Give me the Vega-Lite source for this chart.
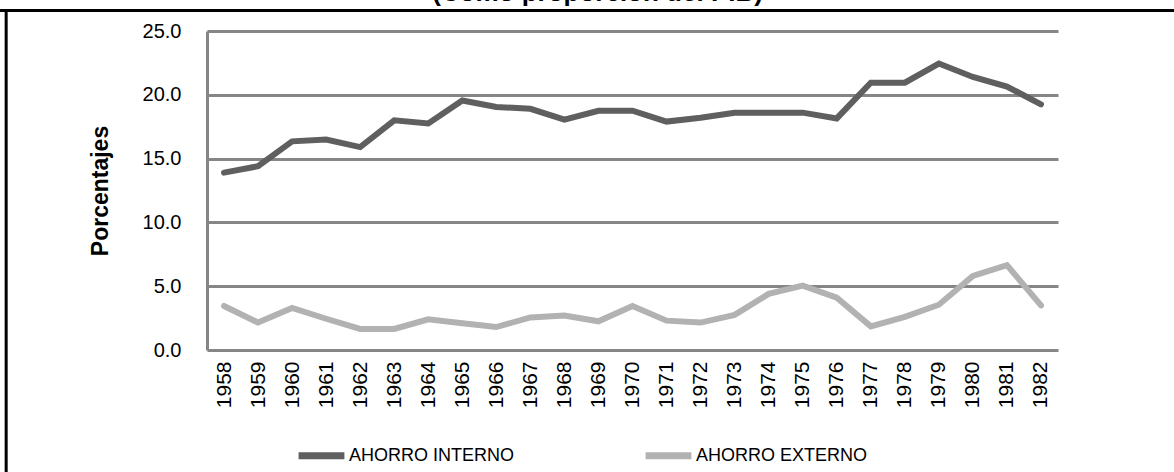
{
  "$schema": "https://vega.github.io/schema/vega-lite/v6.json",
  "autosize": "none",
  "width": 851,
  "height": 319,
  "padding": {"left": 207, "top": 31, "right": 116, "bottom": 122},
  "background": "white",
  "title": {
    "text": "(Como proporción del PIB)",
    "anchor": "middle",
    "frame": "group",
    "baseline": "alphabetic",
    "offset": 1,
    "dy": 19,
    "dx": -35,
    "fontSize": 26,
    "fontWeight": "bold",
    "font": "Liberation Sans",
    "color": "black"
  },
  "config": {
    "view": {"stroke": null},
    "font": "Liberation Sans"
  },
  "layer": [
    {
      "data": {
        "values": [
          {"anio": "1958", "interno": 13.9, "externo": 3.45},
          {"anio": "1959", "interno": 14.4, "externo": 2.15},
          {"anio": "1960", "interno": 16.35, "externo": 3.3},
          {"anio": "1961", "interno": 16.5, "externo": 2.45},
          {"anio": "1962", "interno": 15.9, "externo": 1.65},
          {"anio": "1963", "interno": 18.0, "externo": 1.65},
          {"anio": "1964", "interno": 17.75, "externo": 2.4},
          {"anio": "1965", "interno": 19.55, "externo": 2.1},
          {"anio": "1966", "interno": 19.05, "externo": 1.8},
          {"anio": "1967", "interno": 18.9, "externo": 2.55},
          {"anio": "1968", "interno": 18.05, "externo": 2.7},
          {"anio": "1969", "interno": 18.75, "externo": 2.25},
          {"anio": "1970", "interno": 18.75, "externo": 3.45},
          {"anio": "1971", "interno": 17.9, "externo": 2.3},
          {"anio": "1972", "interno": 18.2, "externo": 2.15},
          {"anio": "1973", "interno": 18.6, "externo": 2.75},
          {"anio": "1974", "interno": 18.6, "externo": 4.4},
          {"anio": "1975", "interno": 18.6, "externo": 5.05},
          {"anio": "1976", "interno": 18.15, "externo": 4.1},
          {"anio": "1977", "interno": 20.95, "externo": 1.85},
          {"anio": "1978", "interno": 20.95, "externo": 2.6},
          {"anio": "1979", "interno": 22.45, "externo": 3.55},
          {"anio": "1980", "interno": 21.4, "externo": 5.8},
          {"anio": "1981", "interno": 20.65, "externo": 6.65},
          {"anio": "1982", "interno": 19.25, "externo": 3.5}
        ]
      },
      "transform": [
        {"fold": ["interno", "externo"], "as": ["clave", "valor"]},
        {"lookup": "clave", "from": {"data": {"values": [
          {"clave": "interno", "serie": "AHORRO INTERNO"},
          {"clave": "externo", "serie": "AHORRO EXTERNO"}
        ]}, "key": "clave", "fields": ["serie"]}}
      ],
      "mark": {"type": "line", "strokeWidth": 6, "strokeJoin": "miter", "strokeCap": "round"},
      "encoding": {
        "x": {
          "field": "anio",
          "type": "ordinal",
          "scale": {"padding": 0.5},
          "axis": {
            "title": null,
            "domain": false,
            "ticks": false,
            "grid": false,
            "labelAngle": 270,
            "labelAlign": "right",
            "labelBaseline": "middle",
            "labelFontSize": 21,
            "labelColor": "black",
            "labelPadding": 11
          }
        },
        "y": {
          "field": "valor",
          "type": "quantitative",
          "scale": {"domain": [0, 25], "nice": false},
          "axis": {
            "title": "Porcentajes",
            "titleFontSize": 23,
            "titleFontWeight": "bold",
            "titleColor": "black",
            "titlePadding": 30,
            "values": [0, 5, 10, 15, 20, 25],
            "format": ".1f",
            "labelFontSize": 20,
            "labelColor": "black",
            "labelPadding": 26,
            "ticks": false,
            "domain": true,
            "domainColor": "#868686",
            "domainWidth": 3,
            "grid": true,
            "gridColor": "#868686",
            "gridWidth": 3,
            "gridOpacity": 1
          }
        },
        "color": {
          "field": "serie",
          "type": "nominal",
          "scale": {"domain": ["AHORRO INTERNO", "AHORRO EXTERNO"], "range": ["#5f5f5f", "#b2b2b2"]},
          "legend": {
            "title": null,
            "orient": "none",
            "direction": "horizontal",
            "legendX": 88,
            "legendY": 398,
            "symbolType": "stroke",
            "symbolStrokeWidth": 7,
            "symbolSize": 2100,
            "labelFontSize": 18,
            "labelFont": "Liberation Sans Narrow, Liberation Sans",
            "labelColor": "black",
            "labelOffset": 1,
            "columnPadding": 116,
            "labelLimit": 400
          }
        }
      }
    },
    {
      "data": {"values": [{}]},
      "mark": {"type": "rule", "color": "black", "strokeWidth": 3},
      "encoding": {
        "x": {"datum": -0.245, "type": "quantitative", "scale": {"domain": [0, 1]}, "axis": null},
        "x2": {"datum": 1.14},
        "y": {"datum": 26.6, "type": "quantitative"}
      }
    },
    {
      "data": {"values": [{}]},
      "mark": {"type": "rule", "color": "black", "strokeWidth": 3},
      "encoding": {
        "x": {"datum": -0.236, "type": "quantitative", "scale": {"domain": [0, 1]}, "axis": null},
        "y": {"datum": 26.6, "type": "quantitative"},
        "y2": {"datum": -10}
      }
    }
  ],
  "resolve": {"scale": {"x": "independent"}}
}
